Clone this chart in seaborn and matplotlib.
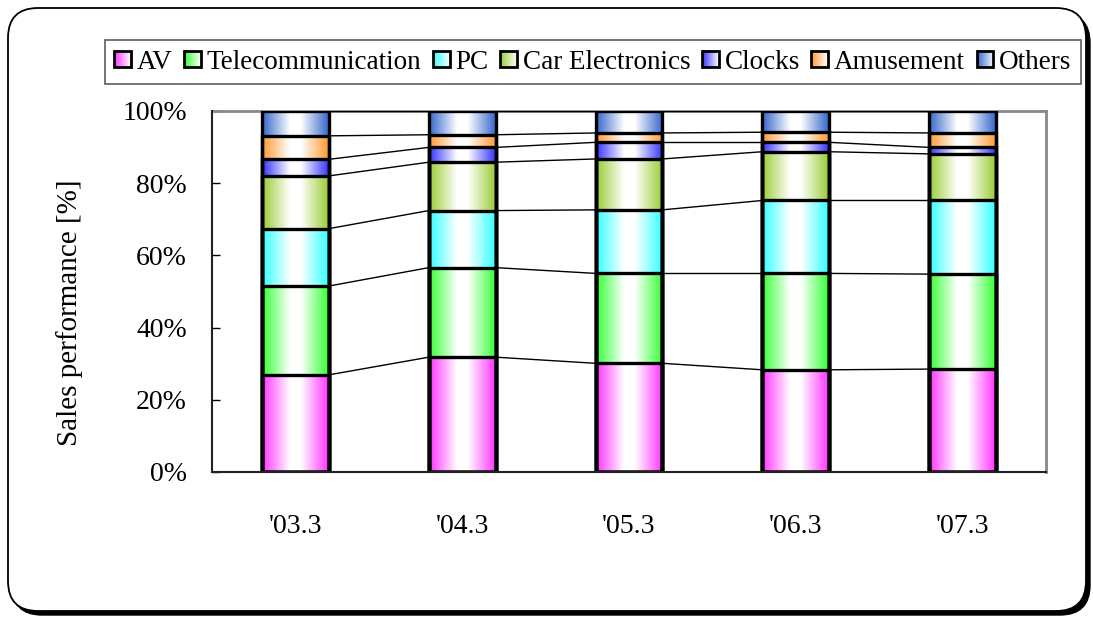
import matplotlib

matplotlib.use("Agg")
import matplotlib.pyplot as plt
import numpy as np
import pandas as pd
import seaborn as sns
from matplotlib.colors import LinearSegmentedColormap, to_rgb
from matplotlib.image import BboxImage
from matplotlib.legend_handler import HandlerBase
from matplotlib.patches import FancyBboxPatch, Patch, Rectangle
from matplotlib.transforms import Bbox, IdentityTransform, TransformedBbox

years = ["'03.3", "'04.3", "'05.3", "'06.3", "'07.3"]
series = ["AV", "Telecommunication", "PC", "Car Electronics", "Clocks", "Amusement", "Others"]
av = [26.9, 31.8, 30.1, 28.3, 28.5]
telecom = [24.6, 24.8, 24.9, 26.7, 26.3]
pc = [15.9, 15.8, 17.6, 20.2, 20.4]
car = [14.6, 13.4, 14.1, 13.5, 12.9]
clocks = [4.6, 4.1, 4.6, 2.6, 1.8]
amusement = [6.5, 3.5, 2.6, 2.8, 4.0]
others = [6.9, 6.6, 6.1, 5.9, 6.1]
colors = ["#FF33FF", "#33FF33", "#33FFFF", "#99CC33", "#3333FF", "#FF9933", "#3366CC"]

values = np.array([av, telecom, pc, car, clocks, amusement, others])
cum = np.cumsum(values, axis=0)
bottoms = cum - values

sns.set_style("white")
plt.rcParams["font.family"] = ["Liberation Serif", "DejaVu Serif"]
plt.rcParams.update({"text.color": "black", "axes.labelcolor": "black",
                     "xtick.color": "black", "ytick.color": "black"})

fig = plt.figure(figsize=(10.93, 6.19), dpi=100)
ax = fig.add_axes([0.194, 0.2375, 0.763, 0.5833])

# outline bars: tallest first so every boundary gets an edge
for k in range(len(series) - 1, -1, -1):
    df = pd.DataFrame({"year": years, "cum": cum[k]})
    sns.barplot(data=df, x="year", y="cum", color=colors[k], width=0.4, ax=ax, zorder=3)

for p in ax.patches:
    p.set_facecolor("none")
    p.set_edgecolor("black")
    p.set_linewidth(2.4)

bar_x = [(p.get_x(), p.get_x() + p.get_width()) for p in ax.patches[-len(years):]]


def grad_cmap(c, sym=True):
    rgb = to_rgb(c)
    if sym:
        return LinearSegmentedColormap.from_list(
            "g", [(0, rgb), (0.42, (1, 1, 1)), (0.58, (1, 1, 1)), (1, rgb)])
    return LinearSegmentedColormap.from_list("g", [(0, rgb), (1, (1, 1, 1))])


grad = np.linspace(0, 1, 256).reshape(1, -1)
for k in range(len(series)):
    cm = grad_cmap(colors[k])
    for i in range(len(years)):
        x0, x1 = bar_x[i]
        ax.imshow(grad, cmap=cm, extent=[x0, x1, bottoms[k][i], cum[k][i]],
                  aspect="auto", interpolation="bilinear", zorder=2)

# series lines
for k in range(len(series)):
    for i in range(len(years) - 1):
        ax.plot([bar_x[i][1], bar_x[i + 1][0]], [cum[k][i], cum[k][i + 1]],
                color="black", lw=1, zorder=4)

ax.set_xlim(-0.5, len(years) - 0.5)
ax.set_ylim(0, 100)
ax.set_yticks(range(0, 101, 20))
ax.set_yticklabels([f"{v}%" for v in range(0, 101, 20)])
ax.set_xticks(np.arange(-0.5, len(years), 1), minor=True)
ax.tick_params(axis="x", which="major", length=0, pad=30, labelsize=20)
ax.tick_params(axis="x", which="minor", direction="in", length=7, width=1, color="black")
ax.tick_params(axis="y", direction="in", length=6, width=1, color="black", pad=18, labelsize=20, left=True)
ax.set_xlabel("")
ax.set_ylabel("Sales performance [%]", fontsize=21)
ax.yaxis.set_label_coords(-0.155, 0.44)

for side in ["top", "right"]:
    ax.spines[side].set_color("#888888")
    ax.spines[side].set_linewidth(2)
for side in ["left", "bottom"]:
    ax.spines[side].set_color("#222222")
    ax.spines[side].set_linewidth(1.5)
    ax.spines[side].set_zorder(5)


class GradientHandler(HandlerBase):
    def create_artists(self, legend, orig_handle, xdescent, ydescent, width, height, fontsize, trans):
        size = min(width, height)
        x0 = -xdescent + (width - size) / 2
        y0 = -ydescent + (height - size) / 2
        bbox = TransformedBbox(Bbox.from_bounds(x0, y0, size, size), trans)
        img = BboxImage(bbox, cmap=grad_cmap(orig_handle.get_facecolor(), sym=False),
                        interpolation="bilinear")
        img.set_data(grad)
        rect = Rectangle((x0, y0), size, size, facecolor="none", edgecolor="black",
                         lw=2, transform=trans)
        return [img, rect]


handles = [Patch(facecolor=c, label=s) for s, c in zip(series, colors)]
leg = fig.legend(handles=handles, loc="center", bbox_to_anchor=(0.5425, 0.8998), ncol=7,
                 fontsize=19.5, handlelength=0.62, handleheight=0.62, handletextpad=0.22,
                 columnspacing=0.42, borderpad=0.35, frameon=True, fancybox=False,
                 edgecolor="#333333", handler_map={Patch: GradientHandler()})
leg.get_frame().set_linewidth(1.2)

# rounded outer frame with shadow
shadow = FancyBboxPatch((12, 4), 1078, 602, boxstyle="round,pad=0,rounding_size=30",
                        transform=IdentityTransform(), facecolor="black", edgecolor="black",
                        zorder=-2)
frame = FancyBboxPatch((8, 8), 1078, 603, boxstyle="round,pad=0,rounding_size=30",
                       transform=IdentityTransform(), facecolor="white", edgecolor="black",
                       lw=1.3, zorder=-1)
fig.patches.extend([shadow, frame])

fig.savefig("out.png", dpi=100)
